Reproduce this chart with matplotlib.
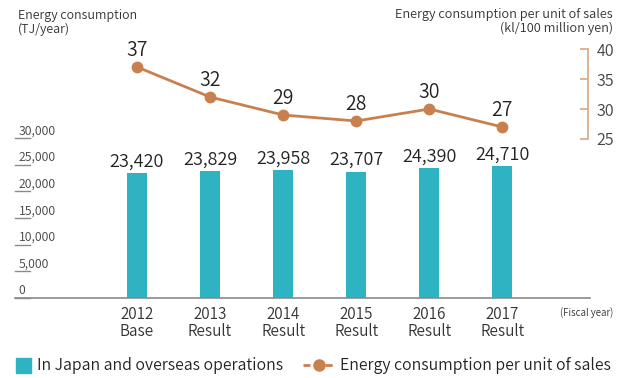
import matplotlib.pyplot as plt
import numpy as np

plt.rcParams['font.family'] = ['Noto Sans CJK JP', 'DejaVu Sans']
plt.rcParams['font.weight'] = 350

# data
years = ["2012", "2013", "2014", "2015", "2016", "2017"]
kinds = ["Base", "Result", "Result", "Result", "Result", "Result"]
energy = [23420, 23829, 23958, 23707, 24390, 24710]          # TJ/year
intensity = [37, 32, 29, 28, 30, 27]                          # kl/100 million yen
left_ticks = [0, 5000, 10000, 15000, 20000, 25000, 30000]
right_ticks = [25, 30, 35, 40]

bar_color = "#2db3c1"
line_color = "#c9804f"
spine_color = "#dcae8a"
text_color = "#222222"
W, H = 626, 378

fig = plt.figure(figsize=(W / 100, H / 100), dpi=100)

# bars (left scale)
ax = fig.add_axes([15 / W, 80 / H, 575 / W, 160 / H])
x = np.arange(len(years))
ax.bar(x, energy, width=0.27, color=bar_color, zorder=2)
ax.set_xlim(-1.67, 6.2)
ax.set_ylim(0, 30000)
for s in ["top", "right", "left"]:
    ax.spines[s].set_visible(False)
ax.spines["bottom"].set_color("#8a8a8a")
ax.spines["bottom"].set_linewidth(1.2)
ax.set_yticks([])
ax.set_xticks(x)
ax.set_xticklabels([f"{y}\n{k}" for y, k in zip(years, kinds)],
                   fontsize=11, color="#333333", linespacing=0.95)
ax.tick_params(axis="x", length=0, pad=6)

# left scale labels with short underlines
for t in left_ticks:
    ax.plot([0.0, 0.026], [t, t], transform=ax.get_yaxis_transform(),
            color="#8a8a8a", lw=1, clip_on=False)
    ax.text(0.006, t + 150, f"{t:,}", transform=ax.get_yaxis_transform(),
            fontsize=8.8, color="#444444", ha="left", va="bottom")

for xi, v in zip(x, energy):
    ax.text(xi, v + 500, f"{v:,}", ha="center", va="bottom",
            fontsize=13, color=text_color)

# line (right scale)
ax2 = fig.add_axes([15 / W, 239 / H, 573 / W, 90 / H])
ax2.patch.set_alpha(0)
xl = ax.get_xlim()
ax2.set_xlim(xl[0], xl[0] + (xl[1] - xl[0]) * 573 / 575)
ax2.set_ylim(25, 40)
ax2.plot(x, intensity, color=line_color, lw=2, marker="o", ms=7.5, clip_on=False, zorder=3)
for xi, v in zip(x, intensity):
    ax2.text(xi, v + 1.0, str(v), ha="center", va="bottom", fontsize=14, color=text_color)
for s in ["top", "left", "bottom"]:
    ax2.spines[s].set_visible(False)
ax2.spines["right"].set_color(spine_color)
ax2.spines["right"].set_linewidth(1.3)
ax2.set_xticks([])
ax2.yaxis.tick_right()
ax2.set_yticks(right_ticks)
ax2.tick_params(axis="y", direction="in", length=6, width=1.3, color=spine_color,
                labelsize=11.5, labelcolor="#444444", pad=6)
ax2.yaxis.get_major_ticks()[1].tick2line.set_color("#c07a50")

# headers
fig.text(18 / W, 1 - 9 / H, "Energy consumption\n(TJ/year)", fontsize=9,
         color="#333333", ha="left", va="top", linespacing=1.05)
fig.text(613 / W, 1 - 8 / H, "Energy consumption per unit of sales\n(kl/100 million yen)",
         fontsize=9.2, color="#333333", ha="right", va="top", linespacing=1.05,
         multialignment="right")
fig.text(613 / W, 1 - 313 / H, "(Fiscal year)", fontsize=7, color="#333333",
         ha="right", va="center")

# legend
fig.patches.append(plt.Rectangle((16 / W, 1 - 373 / H), 15 / W, 15 / H,
                                 transform=fig.transFigure, color=bar_color))
fig.text(37 / W, 1 - 365 / H, "In Japan and overseas operations", fontsize=11.4,
         color=text_color, ha="left", va="center")
fig.add_artist(plt.Line2D([303 / W, 334 / W], [1 - 365 / H, 1 - 365 / H], color=line_color,
                          lw=2, ls=(0, (2.5, 1.5)), transform=fig.transFigure))
fig.add_artist(plt.Line2D([318.5 / W], [1 - 365 / H], color=line_color, marker="o", ms=8,
                          transform=fig.transFigure))
fig.text(340 / W, 1 - 365 / H, "Energy consumption per unit of sales", fontsize=11.4,
         color=text_color, ha="left", va="center")

fig.savefig("out.png", dpi=100)
